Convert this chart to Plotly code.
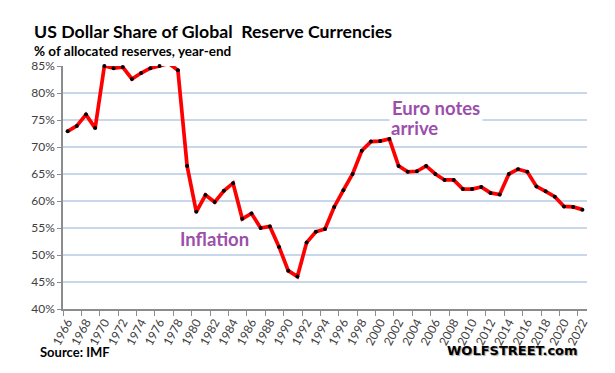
import plotly.graph_objects as go

years = list(range(1966, 2023))
usd_share = [
    72.9, 73.9, 76.0, 73.5, 85.0, 84.6, 84.8, 82.6, 83.7, 84.6,
    85.0, 85.5, 84.2, 66.5, 58.0, 61.1, 59.8, 61.9, 63.3, 56.7,
    57.7, 55.0, 55.3, 51.5, 47.1, 46.0, 52.3, 54.3, 54.8, 58.9,
    62.0, 65.0, 69.3, 71.0, 71.1, 71.5, 66.5, 65.4, 65.5, 66.5,
    65.0, 63.9, 63.9, 62.2, 62.2, 62.6, 61.5, 61.2, 65.0, 65.9,
    65.4, 62.7, 61.8, 60.8, 59.0, 58.9, 58.4,
]
y_ticks = [40, 45, 50, 55, 60, 65, 70, 75, 80, 85]
x_ticks = list(range(1966, 2023, 2))

title = "US Dollar Share of Global  Reserve Currencies"
subtitle = "% of allocated reserves, year-end"
source = "Source: IMF"
brand = "WOLFSTREET.com"

FONT = "Lato"
purple = "#9B4FAA"

# page has an 8px body margin; figure is sized to fill the rest of the window
OFF = 8
W, H = 615 - OFF, 373 - OFF
L, R, T, B = 63 - OFF, 28, 66 - OFF, 64
pw, ph = W - L - R, H - T - B
def px(xp):
    return (xp - OFF - L) / pw
def py(yp):
    return (H - B - (yp - OFF)) / ph

fig = go.Figure()
fig.add_trace(go.Scatter(
    x=years, y=usd_share, mode="lines+markers",
    line=dict(color="#FF0000", width=3.7),
    marker=dict(color="#000000", size=4),
    cliponaxis=False, hoverinfo="x+y",
))

fig.update_layout(
    template="none",
    width=W, height=H,
    margin=dict(l=L, r=R, t=T, b=B, autoexpand=False),
    paper_bgcolor="white", plot_bgcolor="white",
    showlegend=False,
    font=dict(family=FONT, color="#404040"),
    xaxis=dict(
        range=[1965.5, 2022.5], tickvals=x_ticks, ticktext=[str(v) for v in x_ticks],
        tickangle=-62, tickfont=dict(size=12, color="#404040"),
        showgrid=False, zeroline=False, automargin=False,
        showline=True, linecolor="#8C8C8C", linewidth=1.5,
        ticks="",
        minor=dict(tick0=1965.5, dtick=2, ticks="outside", ticklen=5,
                   tickcolor="#8C8C8C", tickwidth=1, showgrid=False),
    ),
    yaxis=dict(
        range=[40, 85], tickvals=y_ticks, ticktext=[f"{v}%" for v in y_ticks],
        tickfont=dict(size=12, color="#404040"),
        showgrid=True, gridcolor="#C9D7EB", gridwidth=1.5,
        zeroline=False, showline=True, linecolor="#8C8C8C", linewidth=1.5,
        ticks="outside", ticklen=4, tickcolor="#8C8C8C", automargin=False,
    ),
    annotations=[
        dict(text=f"<b>{title}</b>", xref="paper", yref="paper",
             x=px(32), y=py(31), xanchor="left", yanchor="middle", showarrow=False,
             font=dict(size=17.7, color="#000000", family=FONT)),
        dict(text=f"<b>{subtitle}</b>", xref="paper", yref="paper",
             x=px(32), y=py(51), xanchor="left", yanchor="middle", showarrow=False,
             font=dict(size=13.5, color="#000000", family=FONT)),
        dict(text=f"<b>{source}</b>", xref="paper", yref="paper",
             x=px(38), y=py(352), xanchor="left", yanchor="middle", showarrow=False,
             font=dict(size=13, color="#000000", family=FONT)),
        dict(text=f"<b>{brand}</b>", xref="paper", yref="paper",
             x=px(580), y=py(350), xanchor="right", yanchor="middle", showarrow=False,
             font=dict(size=13, color="#000000", family="DejaVu Sans",
                       shadow="1px 1px 1px #A0A0A0")),
        dict(text="<b>Inflation</b>", xref="x", yref="y", x=1978.0, y=53.0,
             xanchor="left", yanchor="middle", showarrow=False,
             font=dict(size=18.5, color=purple, family=FONT)),
        dict(text="<b>Euro notes</b>", xref="x", yref="y", x=2001.0, y=77.3,
             xanchor="left", yanchor="middle", align="left", showarrow=False,
             bgcolor="white", borderpad=2,
             font=dict(size=18.5, color=purple, family=FONT)),
        dict(text="<b>arrive</b>", xref="x", yref="y", x=2001.0, y=73.6,
             xanchor="left", yanchor="middle", align="left", showarrow=False,
             font=dict(size=18.5, color=purple, family=FONT)),
    ],
)

fig.write_html("out.html")
